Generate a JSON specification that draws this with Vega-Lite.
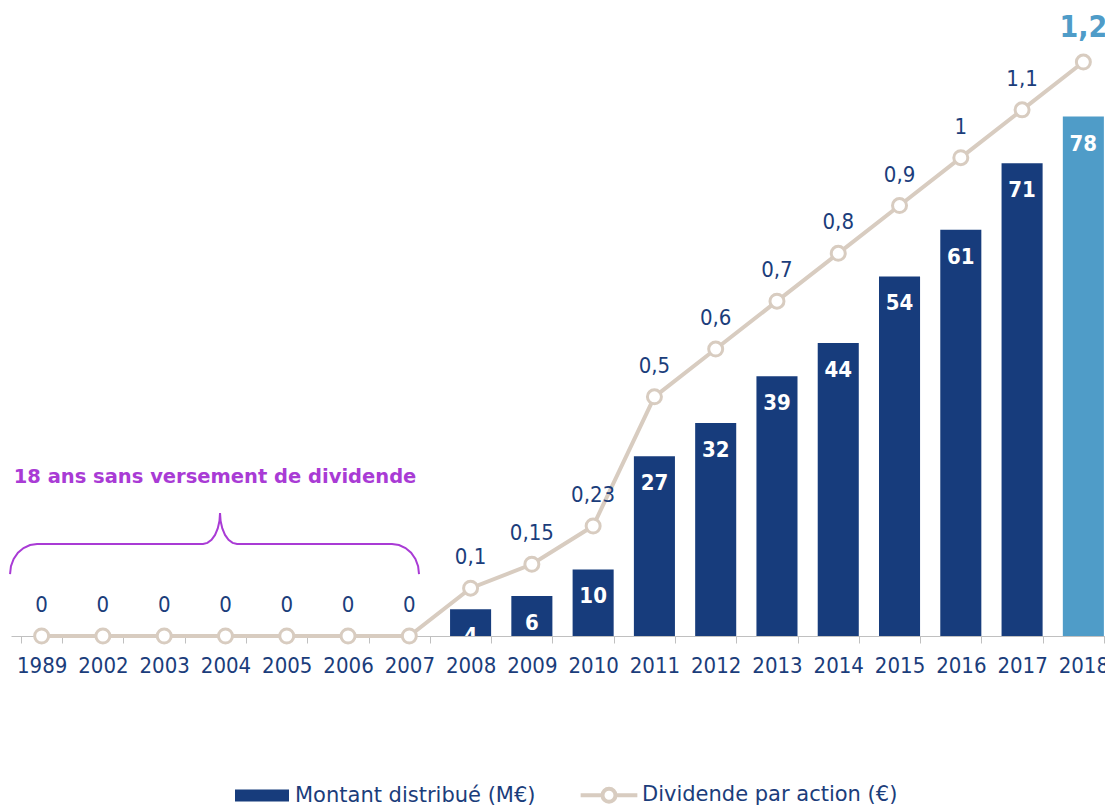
{
  "$schema": "https://vega.github.io/schema/vega-lite/v6.json",
  "width": 1094,
  "height": 636,
  "autosize": {"type": "none"},
  "padding": {"left": 11, "top": 0, "right": 0, "bottom": 170},
  "background": "#ffffff",
  "config": {
    "view": {"stroke": null},
    "locale": {"number": {"decimal": ",", "thousands": " ", "grouping": [3], "currency": ["", " €"]}}
  },
  "datasets": {
    "main": [
      {"year": "1989", "montant": 0, "dpa": 0},
      {"year": "2002", "montant": 0, "dpa": 0},
      {"year": "2003", "montant": 0, "dpa": 0},
      {"year": "2004", "montant": 0, "dpa": 0},
      {"year": "2005", "montant": 0, "dpa": 0},
      {"year": "2006", "montant": 0, "dpa": 0},
      {"year": "2007", "montant": 0, "dpa": 0},
      {"year": "2008", "montant": 4, "dpa": 0.1},
      {"year": "2009", "montant": 6, "dpa": 0.15},
      {"year": "2010", "montant": 10, "dpa": 0.23},
      {"year": "2011", "montant": 27, "dpa": 0.5},
      {"year": "2012", "montant": 32, "dpa": 0.6},
      {"year": "2013", "montant": 39, "dpa": 0.7},
      {"year": "2014", "montant": 44, "dpa": 0.8},
      {"year": "2015", "montant": 54, "dpa": 0.9},
      {"year": "2016", "montant": 61, "dpa": 1},
      {"year": "2017", "montant": 71, "dpa": 1.1},
      {"year": "2018", "montant": 78, "dpa": 1.2}
    ],
    "brace": [
      {"i": -0.5157, "v": 0.1296}, {"i": -0.5007, "v": 0.1459}, {"i": -0.4566, "v": 0.1610},
      {"i": -0.3866, "v": 0.1740}, {"i": -0.2954, "v": 0.1839}, {"i": -0.1891, "v": 0.1902},
      {"i": -0.0751, "v": 0.1923}, {"i": 2.6338, "v": 0.1923}, {"i": 2.7056, "v": 0.1946},
      {"i": 2.7725, "v": 0.2010}, {"i": 2.8300, "v": 0.2113}, {"i": 2.8740, "v": 0.2248},
      {"i": 2.9018, "v": 0.2404}, {"i": 2.9112, "v": 0.2572}, {"i": 2.9207, "v": 0.2404},
      {"i": 2.9484, "v": 0.2248}, {"i": 2.9925, "v": 0.2113}, {"i": 3.0499, "v": 0.2010},
      {"i": 3.1168, "v": 0.1946}, {"i": 3.1886, "v": 0.1923}, {"i": 5.7180, "v": 0.1923},
      {"i": 5.8321, "v": 0.1902}, {"i": 5.9383, "v": 0.1839}, {"i": 6.0295, "v": 0.1740},
      {"i": 6.0996, "v": 0.1610}, {"i": 6.1436, "v": 0.1459}, {"i": 6.1586, "v": 0.1296}
    ],
    "annot": [
      {"i": 2.8296, "v": 0.3199, "t": "18 ans sans versement de dividende"}
    ]
  },
  "data": {"name": "main"},
  "layer": [
    {
      "layer": [
        {
          "mark": {"type": "bar"},
          "encoding": {
            "x": {
              "field": "year", "type": "ordinal",
              "scale": {"type": "band", "paddingInner": 0.33, "paddingOuter": 0.165, "range": [0, 1103]},
              "axis": {
                "title": null, "labelAngle": 0, "labelFont": "DejaVu Sans Condensed", "labelFontSize": 22,
                "labelColor": "#1b3d7b", "domainColor": "#c0c0c0", "domainWidth": 1,
                "tickColor": "#c0c0c0", "tickSize": 7, "tickBand": "extent", "labelPadding": 12,
                "grid": false, "labelOverlap": false
              }
            },
            "y": {"field": "montant", "type": "quantitative", "scale": {"domain": [0, 95.5], "nice": false}, "axis": null},
            "color": {
              "condition": {"test": "datum.year === '2018'", "value": "#4f9cc8"},
              "datum": "Montant distribué (M€)",
              "scale": {"domain": ["Montant distribué (M€)", "Dividende par action (€)"], "range": ["#173c7c", "#ffffff"]},
              "legend": {
                "orient": "none", "legendX": 222, "legendY": 766, "direction": "horizontal", "title": null,
                "labelFont": "DejaVu Sans", "labelFontSize": 21, "labelColor": "#1b3d7b", "labelLimit": 500,
                "symbolSize": 2916, "labelOffset": 4, "columnPadding": 36, "padding": 0,
                "symbolType": "M-1,-0.22H1V0.22H-1Z",
                "encode": {
                  "symbols": {
                    "update": {
                      "shape": {"signal": "datum.value === 'Montant distribué (M€)' ? 'M-1,-0.22H1V0.22H-1Z' : 'M-1.05,0H-0.24M0.24,0H1.05M0.24,0A0.24,0.24 0 1 1 -0.24,0A0.24,0.24 0 1 1 0.24,0Z'"},
                      "stroke": {"signal": "datum.value === 'Montant distribué (M€)' ? 'transparent' : '#d8ccc0'"},
                      "strokeWidth": {"value": 4},
                      "opacity": {"value": 1}
                    }
                  }
                }
              }
            }
          }
        },
        {
          "transform": [{"filter": "datum.montant > 0"}],
          "mark": {"type": "text", "font": "DejaVu Sans Condensed", "fontSize": 22, "fontWeight": "bold", "color": "#ffffff", "baseline": "alphabetic", "align": "center", "dy": 34, "clip": true},
          "encoding": {
            "x": {"field": "year", "type": "ordinal"},
            "y": {"field": "montant", "type": "quantitative"},
            "text": {"field": "montant", "type": "quantitative"}
          }
        }
      ]
    },
    {
      "layer": [
        {
          "mark": {"type": "line", "color": "#d8ccc0", "strokeWidth": 4},
          "encoding": {
            "x": {"field": "year", "type": "ordinal", "scale": {"type": "band", "paddingInner": 0.33, "paddingOuter": 0.165, "range": [0, 1103]}, "axis": null},
            "y": {"field": "dpa", "type": "quantitative", "scale": {"domain": [0, 1.3297], "nice": false}, "axis": null}
          }
        },
        {
          "mark": {"type": "point", "filled": false, "fill": "#ffffff", "stroke": "#d8ccc0", "strokeWidth": 3, "size": 196, "opacity": 1},
          "encoding": {
            "x": {"field": "year", "type": "ordinal", "axis": null},
            "y": {"field": "dpa", "type": "quantitative", "axis": null}
          }
        },
        {
          "transform": [{"filter": "datum.year !== '2018'"}],
          "mark": {"type": "text", "font": "DejaVu Sans Condensed", "fontSize": 22, "color": "#1b3d7b", "baseline": "alphabetic", "align": "center", "dy": -24},
          "encoding": {
            "x": {"field": "year", "type": "ordinal", "axis": null},
            "y": {"field": "dpa", "type": "quantitative", "axis": null},
            "text": {"field": "dpa", "type": "quantitative", "format": ".2~f"}
          }
        },
        {
          "transform": [{"filter": "datum.year === '2018'"}],
          "mark": {"type": "text", "font": "DejaVu Sans Condensed", "fontSize": 30, "fontWeight": "bold", "color": "#4f9cc8", "baseline": "alphabetic", "align": "center", "dy": -25},
          "encoding": {
            "x": {"field": "year", "type": "ordinal", "axis": null},
            "y": {"field": "dpa", "type": "quantitative", "axis": null},
            "text": {"field": "dpa", "type": "quantitative", "format": ".2~f"}
          }
        }
      ]
    },
    {
      "data": {"name": "brace"},
      "mark": {"type": "line", "color": "#a93bd5", "strokeWidth": 2},
      "encoding": {
        "x": {"field": "i", "type": "quantitative", "scale": {"domain": [-0.5, 17.5], "range": [0, 1103], "nice": false, "zero": false}, "axis": null},
        "y": {"field": "v", "type": "quantitative", "scale": {"domain": [0, 1.3297], "nice": false}, "axis": null}
      }
    },
    {
      "data": {"name": "annot"},
      "mark": {"type": "text", "font": "DejaVu Sans", "fontSize": 19.5, "fontWeight": "bold", "color": "#a93bd5", "baseline": "alphabetic", "align": "center"},
      "encoding": {
        "x": {"field": "i", "type": "quantitative", "scale": {"domain": [-0.5, 17.5], "range": [0, 1103], "nice": false, "zero": false}, "axis": null},
        "y": {"field": "v", "type": "quantitative", "scale": {"domain": [0, 1.3297], "nice": false}, "axis": null},
        "text": {"field": "t", "type": "nominal"}
      }
    }
  ],
  "resolve": {"scale": {"x": "independent", "y": "independent"}}
}
